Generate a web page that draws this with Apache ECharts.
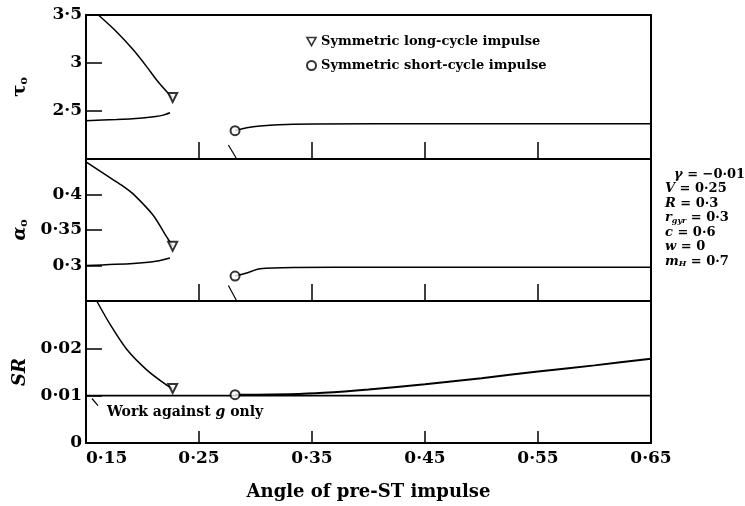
<!DOCTYPE html>
<html>
<head>
<meta charset="utf-8">
<script src="https://cdn.jsdelivr.net/npm/echarts@6/dist/echarts.min.js"></script>
<style>
html, body { margin: 0; padding: 0; background: #fff; }
#main { width: 745px; height: 506px; }
</style>
</head>
<body>
<div id="main"></div>
<script>
// values
var xTickLabels = [0.15, 0.25, 0.35, 0.45, 0.55, 0.65];
var xInnerTicks = [0.25, 0.35, 0.45, 0.55];

// tau_o panel
var tauLongUpX = [0.161, 0.177, 0.192, 0.2037, 0.2125, 0.2228, 0.2267];
var tauLongUpY = [3.5, 3.326, 3.135, 2.962, 2.823, 2.684, 2.64];
var tauLongLowX = [0.15, 0.177, 0.2, 0.2117, 0.2184, 0.2243];
var tauLongLowY = [2.399, 2.411, 2.428, 2.442, 2.457, 2.482];
var tauShortX = [0.2819, 0.2922, 0.304, 0.3335, 0.407, 0.65];
var tauShortY = [2.295, 2.326, 2.344, 2.363, 2.367, 2.367];
var tauSlashX = [0.276, 0.2834];
var tauSlashY = [2.146, 2.0];

// alpha_o panel
var alphaLongUpX = [0.15, 0.1712, 0.183, 0.1919, 0.2096, 0.2214, 0.2267];
var alphaLongUpY = [0.446, 0.4236, 0.4115, 0.4005, 0.3704, 0.3403, 0.327];
var alphaLongLowX = [0.15, 0.1919, 0.2117, 0.2243];
var alphaLongLowY = [0.3, 0.3028, 0.3059, 0.3106];
var alphaShortX = [0.2819, 0.2922, 0.304, 0.3335, 0.407, 0.65];
var alphaShortY = [0.2851, 0.2895, 0.2953, 0.2972, 0.2975, 0.2975];
var alphaSlashX = [0.276, 0.2834];
var alphaSlashY = [0.2718, 0.25];

// SR panel
var srLongX = [0.1595, 0.1712, 0.186, 0.2037, 0.2214, 0.2267];
var srLongY = [0.030, 0.0251, 0.0198, 0.01546, 0.01222, 0.0115];
var srShortX = [0.2819, 0.30, 0.33, 0.36, 0.40, 0.45, 0.50, 0.55, 0.60, 0.65];
var srShortY = [0.0102, 0.0102, 0.0103, 0.0106, 0.0113, 0.0124, 0.0137, 0.0151, 0.0164, 0.0178];
var gOnlyX = [0.15, 0.65];
var gOnlyY = [0.01, 0.01];
var gPointerX = [0.1553, 0.1606];
var gPointerY = [0.0094, 0.0079];

var LONG = 'Symmetric long-cycle impulse';
var SHORT = 'Symmetric short-cycle impulse';
var FONT = 'DejaVu Serif';

function pairs(xs, ys) {
	return xs.map(function (x, i) { return [x, ys[i]]; });
}
function last(xs, ys) {
	return [[xs[xs.length - 1], ys[ys.length - 1]]];
}
function first(xs, ys) {
	return [[xs[0], ys[0]]];
}
function dotLabel(v) {
	return String(+v.toFixed(4)).replace('.', '·');
}

function xAx(idx, tickLen) {
	return {
		type: 'value', gridIndex: idx, min: 0.15, max: 0.65,
		axisLine: { show: false },
		splitLine: { show: false },
		axisTick: { show: true, inside: true, length: tickLen, customValues: xInnerTicks, lineStyle: { color: '#000', width: 1.5 } },
		axisLabel: {
			show: idx == 2, customValues: xTickLabels, margin: 7, alignMinLabel: 'left',
			formatter: dotLabel, color: '#000', fontFamily: FONT, fontSize: 17, fontWeight: 'bold'
		},
		name: idx == 2 ? 'Angle of pre-ST impulse' : '',
		nameLocation: 'middle', nameGap: 40,
		nameTextStyle: { color: '#000', fontFamily: FONT, fontSize: 18, fontWeight: 'bold' }
	};
}

function yAx(idx, min, max, interval, showMin, showMax, name, nameGap, nameStyle) {
	return {
		type: 'value', gridIndex: idx, min: min, max: max, interval: interval,
		axisLine: { show: false },
		splitLine: { show: false },
		axisTick: { show: true, inside: true, length: 16, lineStyle: { color: '#000', width: 1.5 } },
		axisLabel: {
			showMinLabel: showMin, showMaxLabel: showMax, margin: 4,
			formatter: dotLabel, color: '#000', fontFamily: FONT, fontSize: 17, fontWeight: 'bold'
		},
		name: name, nameLocation: 'middle', nameRotate: 90, nameGap: nameGap,
		nameTextStyle: nameStyle
	};
}

function curve(xi, xs, ys, w) {
	return {
		type: 'line', xAxisIndex: xi, yAxisIndex: xi, data: pairs(xs, ys),
		symbol: 'none', smooth: 0.25, silent: true,
		lineStyle: { color: '#000', width: w || 1.5 }
	};
}
function marker(xi, name, pt) {
	var tri = name == LONG;
	return {
		type: 'scatter', name: name, xAxisIndex: xi, yAxisIndex: xi, data: pt,
		symbol: tri ? 'emptyTriangle' : 'emptyCircle', symbolRotate: tri ? 180 : 0,
		symbolSize: 9, z: 5,
		itemStyle: { color: '#000', borderColor: '#000', borderWidth: 1.6 }
	};
}

var gridBase = { left: 86, right: 94, show: true, borderColor: '#000', borderWidth: 2, backgroundColor: 'transparent' };
var subStyle = { fontFamily: FONT, fontSize: 11, fontWeight: 'bold', color: '#000', verticalAlign: 'bottom', padding: [8, 0, 0, 0] };

var option = {
	backgroundColor: '#fff',
	animation: false,
	textStyle: { fontFamily: FONT, color: '#000' },
	grid: [
		Object.assign({ top: 15, height: 144 }, gridBase),
		Object.assign({ top: 159, height: 142 }, gridBase),
		Object.assign({ top: 301, height: 142 }, gridBase)
	],
	legend: {
		data: [
			{ name: LONG, icon: 'path://M0,0L10,0L5,9Z', itemStyle: { color: '#fff', borderColor: '#000', borderWidth: 1.6 } },
			{ name: SHORT }
		],
		orient: 'vertical', left: 301, top: 30,
		itemWidth: 9, itemHeight: 9, itemGap: 11, selectedMode: false,
		textStyle: { fontFamily: FONT, fontSize: 13, fontWeight: 'bold', color: '#000' }
	},
	xAxis: [xAx(0, 17), xAx(1, 17), xAx(2, 12)],
	yAxis: [
		yAx(0, 2, 3.5, 0.5, false, true, '{a|τ}{b|o}', 56, {
			rich: { a: { fontFamily: FONT, fontSize: 18, fontWeight: 'bold', color: '#000' }, b: subStyle }
		}),
		yAx(1, 0.25, 0.45, 0.05, false, false, '{a|α}{b|o}', 56, {
			rich: { a: { fontFamily: FONT, fontSize: 18, fontStyle: 'italic', fontWeight: 'bold', color: '#000' }, b: subStyle }
		}),
		yAx(2, 0, 0.03, 0.01, true, false, 'SR', 57, { fontFamily: FONT, fontSize: 18, fontStyle: 'italic', fontWeight: 'bold', color: '#000' })
	],
	series: [
		curve(0, tauLongUpX, tauLongUpY),
		curve(0, tauLongLowX, tauLongLowY),
		curve(0, tauShortX, tauShortY),
		curve(0, tauSlashX, tauSlashY, 1.2),
		marker(0, LONG, last(tauLongUpX, tauLongUpY)),
		marker(0, SHORT, first(tauShortX, tauShortY)),

		curve(1, alphaLongUpX, alphaLongUpY),
		curve(1, alphaLongLowX, alphaLongLowY),
		curve(1, alphaShortX, alphaShortY),
		curve(1, alphaSlashX, alphaSlashY, 1.2),
		marker(1, LONG, last(alphaLongUpX, alphaLongUpY)),
		marker(1, SHORT, first(alphaShortX, alphaShortY)),

		curve(2, srLongX, srLongY),
		curve(2, gOnlyX, gOnlyY, 1.6),
		curve(2, srShortX, srShortY, 2),
		curve(2, gPointerX, gPointerY, 1.2),
		marker(2, LONG, last(srLongX, srLongY)),
		marker(2, SHORT, first(srShortX, srShortY))
	],
	graphic: [
		{
			type: 'text', left: 107, top: 405,
			style: {
				text: 'Work against {i|g} only', fill: '#000',
				font: 'bold 14px "DejaVu Serif"',
				rich: { i: { fontStyle: 'italic', fontWeight: 'bold', fontFamily: FONT, fontSize: 14 } }
			}
		},
		{
			type: 'text', left: 665, top: 167,
			style: {
				text: [
					'  {i|γ} = −0·01',
					'{i|V} = 0·25',
					'{i|R} = 0·3',
					'{i|r}{s|gyr} = 0·3',
					'{i|c} = 0·6',
					'{i|w} = 0',
					'{i|m}{s|H} = 0·7'
				].join('\n'),
				fill: '#000', font: 'bold 13px "DejaVu Serif"', lineHeight: 14.5,
				rich: {
					i: { fontStyle: 'italic', fontWeight: 'bold', fontFamily: FONT, fontSize: 13, lineHeight: 14.5 },
					s: { fontStyle: 'italic', fontWeight: 'bold', fontFamily: FONT, fontSize: 8, lineHeight: 14.5, padding: [6, 0, 0, 0] }
				}
			}
		}
	]
};

var myChart = echarts.init(document.getElementById('main'));
myChart.setOption(option);
</script>
</body>
</html>
